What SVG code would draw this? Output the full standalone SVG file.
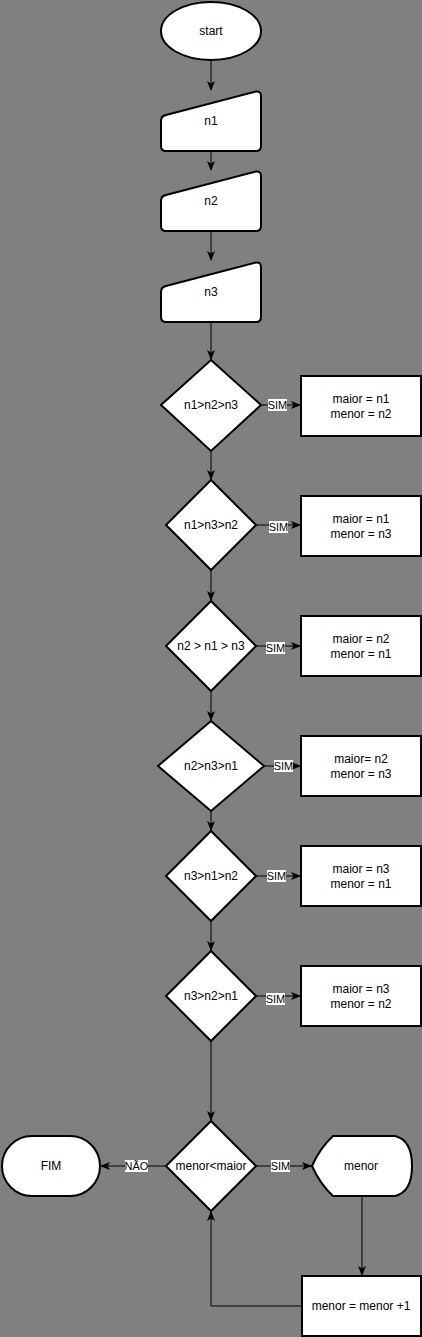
<svg xmlns="http://www.w3.org/2000/svg" width="422" height="1337" viewBox="0 0 422 1337">
<style>
.s{fill:#fff;stroke:#000;stroke-width:2}
.t{font-family:"Liberation Sans",Arial,sans-serif;font-size:12px;fill:#000;text-anchor:middle}
.l{font-family:"Liberation Sans",Arial,sans-serif;font-size:11px;fill:#000;text-anchor:middle}
.c{fill:none;stroke:#000;stroke-width:1}
.lb{fill:#fff}
</style>
<defs>
<marker id="arr" viewBox="0 0 10 8" refX="9" refY="4" markerWidth="10" markerHeight="8" markerUnits="userSpaceOnUse" orient="auto">
<path d="M0,0 L10,4 L0,8 L2.5,4 Z" fill="#000"/>
</marker>
</defs>
<rect x="0" y="0" width="422" height="1337" fill="#808080"/>
<g id="connectors">
<path class="c" d="M211,60 V90" marker-end="url(#arr)"/>
<path class="c" d="M211,151 V170" marker-end="url(#arr)"/>
<path class="c" d="M211,231 V260" marker-end="url(#arr)"/>
<path class="c" d="M211,322 V359" marker-end="url(#arr)"/>
<path class="c" d="M211,451 V479" marker-end="url(#arr)"/>
<path class="c" d="M211,570 V600" marker-end="url(#arr)"/>
<path class="c" d="M211,691 V720" marker-end="url(#arr)"/>
<path class="c" d="M211,811 V830" marker-end="url(#arr)"/>
<path class="c" d="M211,921 V950" marker-end="url(#arr)"/>
<path class="c" d="M211,1041 V1120" marker-end="url(#arr)"/>
<path class="c" d="M261,405 H300" marker-end="url(#arr)"/>
<path class="c" d="M256,525 H300" marker-end="url(#arr)"/>
<path class="c" d="M256,646 H300" marker-end="url(#arr)"/>
<path class="c" d="M264,766 H300" marker-end="url(#arr)"/>
<path class="c" d="M256,876 H300" marker-end="url(#arr)"/>
<path class="c" d="M256,996 H300" marker-end="url(#arr)"/>
<path class="c" d="M256,1166 H311" marker-end="url(#arr)"/>
<path class="c" d="M166,1166 H101" marker-end="url(#arr)"/>
<path class="c" d="M362,1197 V1275" marker-end="url(#arr)"/>
<path class="c" d="M302,1306 H211 V1212" marker-end="url(#arr)"/>
<g id="labels">
<rect class="lb" x="268" y="399" width="19" height="12"/><text class="l" x="277.5" y="409">SIM</text>
<rect class="lb" x="269" y="521" width="19" height="12"/><text class="l" x="278.5" y="531">SIM</text>
<rect class="lb" x="266" y="642" width="19" height="12"/><text class="l" x="275.5" y="652">SIM</text>
<rect class="lb" x="274" y="760" width="19" height="12"/><text class="l" x="283.5" y="770">SIM</text>
<rect class="lb" x="267" y="870" width="19" height="12"/><text class="l" x="276.5" y="880">SIM</text>
<rect class="lb" x="266" y="993" width="19" height="12"/><text class="l" x="275.5" y="1003">SIM</text>
<rect class="lb" x="271" y="1160" width="19" height="12"/><text class="l" x="280.5" y="1170">SIM</text>
<rect class="lb" x="125" y="1160" width="23" height="12"/><text class="l" x="136.5" y="1170">NÃO</text>
</g>
</g>
<g id="start"><ellipse class="s" cx="211" cy="31" rx="50" ry="29"/><text class="t" x="211" y="35">start</text></g>
<g id="n1"><path class="s" d="M161,121 Q161,116 166,115 L256,91.5 Q261,91 261,96 V146 Q261,151 256,151 H166 Q161,151 161,146 Z"/><text class="t" x="211" y="125">n1</text></g>
<g id="n2"><path class="s" d="M161,201 Q161,196 166,195 L256,171.5 Q261,171 261,176 V226 Q261,231 256,231 H166 Q161,231 161,226 Z"/><text class="t" x="211" y="205">n2</text></g>
<g id="n3"><path class="s" d="M161,292 Q161,287 166,286 L256,262.5 Q261,262 261,267 V317 Q261,322 256,322 H166 Q161,322 161,317 Z"/><text class="t" x="211" y="296">n3</text></g>
<g id="d1"><path class="s" d="M211,360 L261,405 L211,451 L161,405 Z"/><text class="t" x="211" y="409">n1&gt;n2&gt;n3</text></g>
<g id="b1"><rect class="s" x="301" y="376" width="120" height="60"/><text class="t" x="361" y="403">maior = n1</text><text class="t" x="361" y="418">menor = n2</text></g>
<g id="d2"><path class="s" d="M211,480 L256,525 L211,570 L166,525 Z"/><text class="t" x="211" y="529">n1&gt;n3&gt;n2</text></g>
<g id="b2"><rect class="s" x="301" y="496" width="120" height="60"/><text class="t" x="361" y="523">maior = n1</text><text class="t" x="361" y="538">menor = n3</text></g>
<g id="d3"><path class="s" d="M211,601 L256,646 L211,691 L166,646 Z"/><text class="t" x="211" y="650">n2 &gt; n1 &gt; n3</text></g>
<g id="b3"><rect class="s" x="301" y="616" width="120" height="60"/><text class="t" x="361" y="643">maior = n2</text><text class="t" x="361" y="658">menor = n1</text></g>
<g id="d4"><path class="s" d="M211,721 L264,766 L211,811 L158,766 Z"/><text class="t" x="211" y="770">n2&gt;n3&gt;n1</text></g>
<g id="b4"><rect class="s" x="301" y="736" width="120" height="60"/><text class="t" x="361" y="763">maior= n2</text><text class="t" x="361" y="778">menor = n3</text></g>
<g id="d5"><path class="s" d="M211,831 L256,876 L211,921 L166,876 Z"/><text class="t" x="211" y="880">n3&gt;n1&gt;n2</text></g>
<g id="b5"><rect class="s" x="301" y="846" width="120" height="60"/><text class="t" x="361" y="873">maior = n3</text><text class="t" x="361" y="888">menor = n1</text></g>
<g id="d6"><path class="s" d="M211,951 L256,996 L211,1041 L166,996 Z"/><text class="t" x="211" y="1000">n3&gt;n2&gt;n1</text></g>
<g id="b6"><rect class="s" x="301" y="966" width="120" height="60"/><text class="t" x="361" y="993">maior = n3</text><text class="t" x="361" y="1008">menor = n2</text></g>
<g id="d7"><path class="s" d="M211,1121 L256,1166 L211,1211 L166,1166 Z"/><text class="t" x="211" y="1170">menor&lt;maior</text></g>
<g id="fim"><rect class="s" x="2" y="1136" width="98" height="60" rx="30" ry="30"/><text class="t" x="51" y="1170">FIM</text></g>
<g id="menor"><path class="s" d="M312,1166 Q320,1148 333,1136 L395,1136 Q412,1140 412,1166 Q412,1192 395,1196 L333,1196 Q320,1184 312,1166 Z"/><text class="t" x="361" y="1170">menor</text></g>
<g id="inc"><rect class="s" x="302" y="1276" width="119" height="60"/><text class="t" x="361" y="1310">menor = menor +1</text></g>
</svg>
